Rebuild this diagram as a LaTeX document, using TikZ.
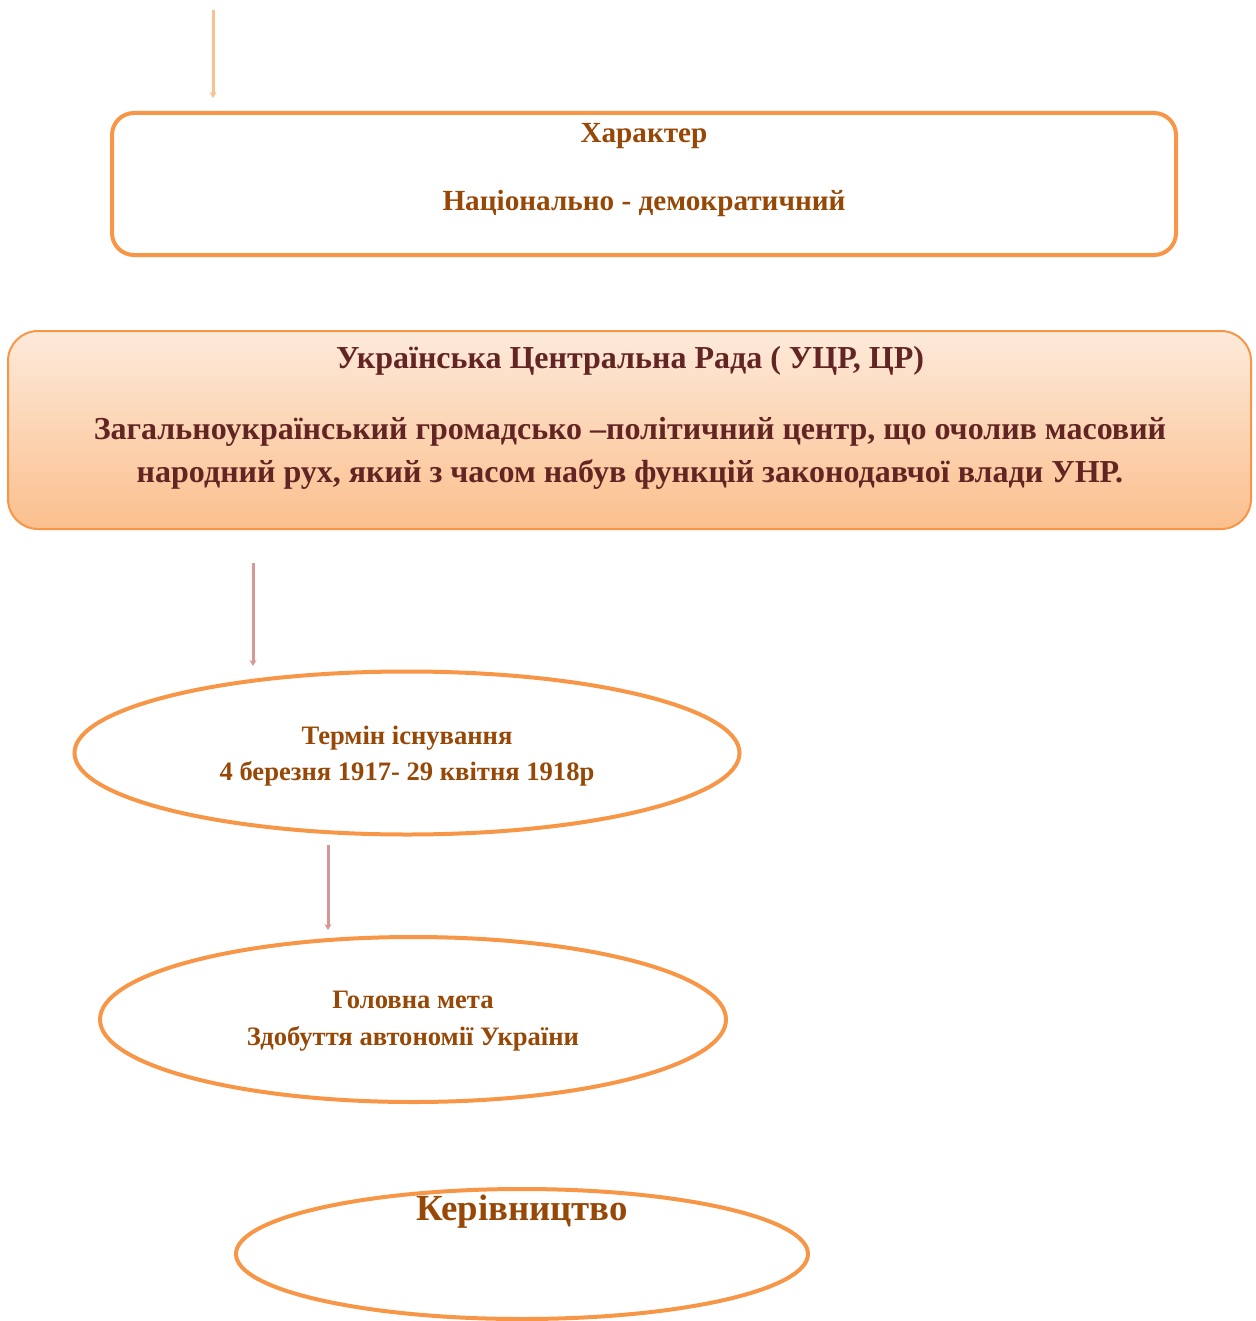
\documentclass[tikz,border=0pt]{standalone}
\usepackage{fontspec}
\setmainfont{Liberation Serif}
\usetikzlibrary{arrows.meta,shapes.geometric}
\definecolor{orng}{HTML}{F79646}
\definecolor{brn}{HTML}{974806}
\definecolor{dred}{HTML}{632523}
\definecolor{arrA}{HTML}{FAC08F}
\definecolor{arrB}{HTML}{D99694}
\definecolor{gtop}{HTML}{FDEADA}
\definecolor{gbot}{HTML}{FBBF8D}
\tikzset{
  charbox/.style={draw=orng, line width=2pt, rounded corners=11pt, minimum width=532pt, minimum height=71pt, inner sep=0pt},
  radabox/.style={draw=orng, line width=1pt, rounded corners=15pt, minimum width=621.5pt, minimum height=99pt, inner sep=0pt, top color=gtop, bottom color=gbot},
  oval/.style={ellipse, draw=orng, line width=2pt, inner sep=0pt},
  btxt/.style={font=\bfseries\fontsize{14.6}{17}\selectfont, text=brn, anchor=base, inner sep=0pt},
  rtxt/.style={font=\bfseries\fontsize{16}{19}\selectfont, text=dred, anchor=base, inner sep=0pt},
  etxt/.style={font=\bfseries\fontsize{13.3}{16}\selectfont, text=brn, anchor=base, inner sep=0pt},
  conA/.style={draw=arrA, line width=1.5pt, -{Stealth[length=3pt,width=3.5pt]}},
  conB/.style={draw=arrB, line width=1.5pt, -{Stealth[length=3pt,width=3.5pt]}},
}
\begin{document}
\begin{tikzpicture}[x=0.5pt,y=-0.5pt]
\useasboundingbox (0,0) rectangle (1255,1321);
% boxes
\node[charbox] (char) at (644,184) {};
\node[radabox] (rada) at (629.5,430) {};
\node[oval, minimum width=332.5pt, minimum height=81.5pt] (term) at (407,753) {};
\node[oval, minimum width=313pt, minimum height=82.5pt] (goal) at (413,1019.5) {};
\node[oval, minimum width=286pt, minimum height=65pt] (lead) at (522,1254) {};
% texts
\node[btxt] (charT) at (644,143) {Характер};
\node[btxt] (charV) at (644,211) {Національно - демократичний};
\node[rtxt] (radaT) at (630,368) {Українська Центральна Рада ( УЦР, ЦР)};
\node[rtxt] (radaL1) at (630,439) {Загальноукраїнський громадсько –політичний центр, що очолив масовий};
\node[rtxt] (radaL2) at (630,482) {народний рух, який з часом набув функцій законодавчої влади УНР.};
\node[etxt] (termT) at (407,744) {Термін існування};
\node[etxt] (termV) at (407,780) {4 березня 1917- 29 квітня 1918р};
\node[etxt] (goalT) at (413,1008) {Головна мета};
\node[etxt] (goalV) at (413,1045) {Здобуття автономії України};
\node[font=\bfseries\fontsize{18.4}{22}\selectfont, text=brn, anchor=base, inner sep=0pt] (leadT) at (522,1220) {Керівництво};
% connectors
\coordinate (a1s) at (213,10);
\coordinate (a1e) at (213,98);
\coordinate (a2s) at (253,563);
\coordinate (a2e) at (253,666);
\coordinate (a3s) at (328,845);
\coordinate (a3e) at (328,930);
\draw[conA] (a1s) -- (a1e);
\draw[conB] (a2s) -- (a2e);
\draw[conB] (a3s) -- (a3e);
\end{tikzpicture}
\end{document}
